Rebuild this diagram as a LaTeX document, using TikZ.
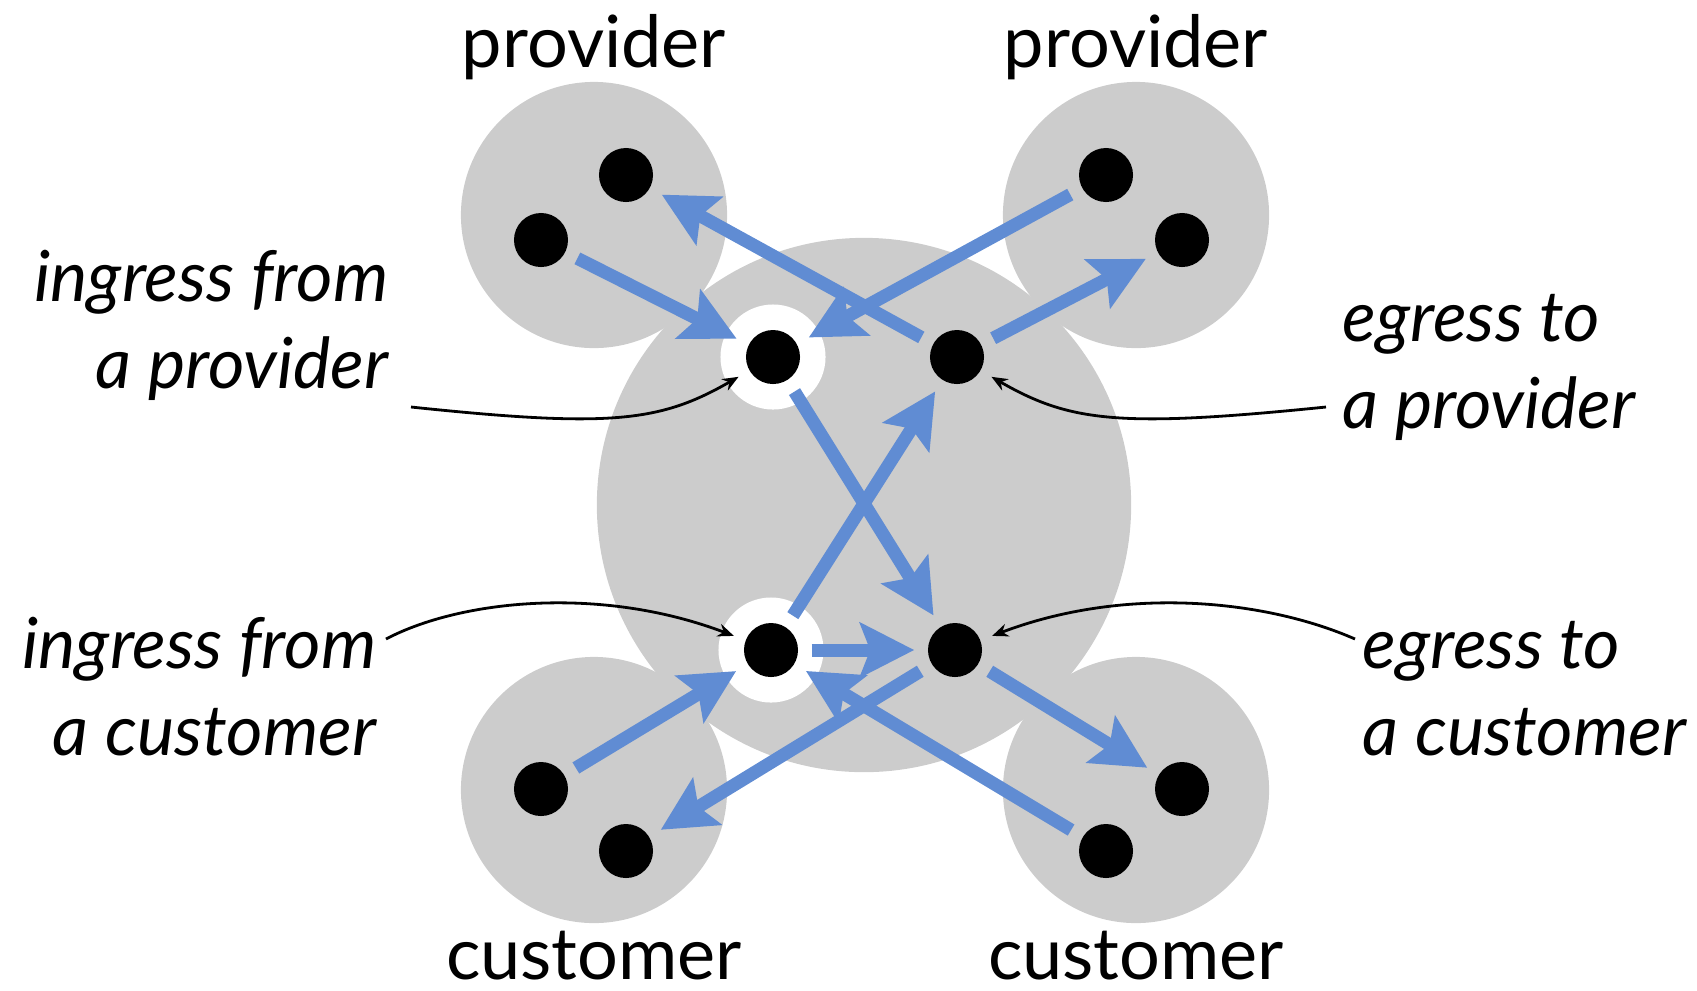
\documentclass[tikz,border=0pt]{standalone}
\usepackage{fontspec}
\setmainfont{Lato}
\usepackage{tikz}
\usetikzlibrary{arrows.meta}
\usetikzlibrary{positioning}
\definecolor{asgray}{RGB}{204,204,204}
\definecolor{flowblue}{RGB}{96,140,211}
\tikzset{asdisk/.style = {circle, fill=asgray, inner sep=0pt},
         router/.style = {circle, fill=black, inner sep=0pt, minimum size=0.54cm},
         ring/.style = {circle, fill=white, inner sep=0pt, minimum size=1.05cm},
         flow/.style = {draw=flowblue, line width=0.13cm,
                        -{Stealth[length=0.54cm, width=0.54cm, inset=0.1cm]},
                        shorten <=0.13cm, shorten >=0.13cm},
         callout/.style = {line width=0.028cm, -{Stealth[length=0.16cm, width=0.13cm]},
                           shorten >=0.12cm},
         role/.style = {font=\fontsize{20.5}{24}\selectfont, inner sep=0pt},
         tag/.style = {font=\fontsize{20}{24.6}\selectfont\itshape, inner sep=0pt}}

\begin{document}
\begin{tikzpicture}[x=0.01cm, y=-0.01cm]
    \useasboundingbox (0, 0) rectangle (1697, 990);

    \node [asdisk, minimum size=5.34cm] (home) at (864, 505) {};
    \node [asdisk, minimum size=2.66cm] (provl) at (594, 215) {};
    \node [asdisk, minimum size=2.66cm] (provr) at (1136, 215) {};
    \node [asdisk, minimum size=2.66cm] (custl) at (594, 790) {};
    \node [asdisk, minimum size=2.66cm] (custr) at (1136, 790) {};

    \node [ring] (inprovring) at (773, 357) {};
    \node [ring] (incustring) at (771, 650) {};

    \node [router] (lp1) at (626, 175) {};
    \node [router] (lp2) at (541, 240) {};
    \node [router] (rp1) at (1106, 175) {};
    \node [router] (rp2) at (1182, 240) {};
    \node [router] (lc1) at (541, 789) {};
    \node [router] (lc2) at (626, 851) {};
    \node [router] (rc1) at (1182, 789) {};
    \node [router] (rc2) at (1106, 851) {};
    \node [router] (inprov) at (773, 357) {};
    \node [router] (egprov) at (957, 357) {};
    \node [router] (incust) at (771, 650) {};
    \node [router] (egcust) at (955, 650) {};

    \draw [flow] (lp2) -- (inprov);
    \draw [flow] (egprov) -- (lp1);
    \draw [flow] (rp1) -- (inprov);
    \draw [flow] (egprov) -- (rp2);
    \draw [flow] (inprov) -- (egcust);
    \draw [flow] (incust) -- (egprov);
    \draw [flow] (incust) -- (egcust);
    \draw [flow] (lc1) -- (incust);
    \draw [flow] (egcust) -- (lc2);
    \draw [flow] (rc2) -- (incust);
    \draw [flow] (egcust) -- (rc1);

    \node [role, anchor=base] (provltext) at (594, 67) {provider};
    \node [role, anchor=base] (provrtext) at (1136, 67) {provider};
    \node [role, anchor=base] (custltext) at (594, 979) {customer};
    \node [role, anchor=base] (custrtext) at (1136, 979) {customer};

    % base is the last line here
    \node [tag, align=right, anchor=base east] (inprovtag) at (389, 388) {ingress from\\a provider};
    \node [tag, align=left, anchor=base west] (egprovtag) at (1342, 428) {egress to\\a provider};
    \node [tag, align=right, anchor=base east] (incusttag) at (377, 755) {ingress from\\a customer};
    \node [tag, align=left, anchor=base west] (egcusttag) at (1362, 755) {egress to\\a customer};

    \coordinate (inprovfrom) at (411, 407);
    \coordinate (egprovfrom) at (1326, 407);
    \coordinate (incustfrom) at (386, 639);
    \coordinate (egcustfrom) at (1355, 639);
    \draw [callout] (inprovfrom) .. controls (611, 428) and (660, 422) .. (inprov);
    \draw [callout] (egprovfrom) .. controls (1119, 428) and (1070, 422) .. (egprov);
    \draw [callout] (incustfrom) .. controls (460, 600) and (600, 585) .. (incust);
    \draw [callout] (egcustfrom) .. controls (1266, 600) and (1126, 585) .. (egcust);
  \end{tikzpicture}
\end{document}
